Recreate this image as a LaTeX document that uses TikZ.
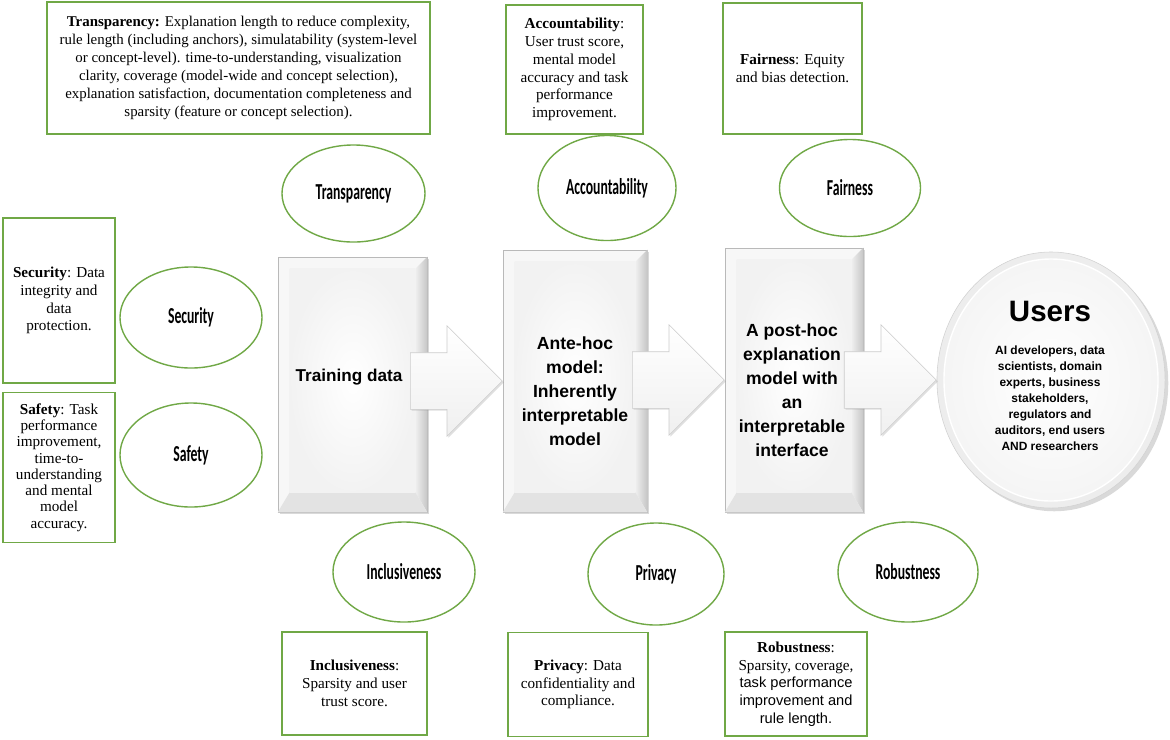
\documentclass[tikz,border=0pt]{standalone}
\usepackage{fontspec}
\usepackage{tikz}
\setmainfont{Liberation Serif}
\newfontfamily\arialfont{Liberation Sans}
\newfontfamily\calibrifont{Carlito}
\usetikzlibrary{shapes,arrows,positioning,calc,shadows}
\definecolor{leafgreen}{RGB}{112,168,70}

% label inside the green ellipses (narrow, tall letters)
\newcommand{\tallname}[1]{\scalebox{0.78}[1.3]{#1}}
% 3D face of a stage panel
\newcommand{\stagebevel}[1]{%
  \shade[left color=gray!12, right color=gray!45] ($(#1.north east)+(-12,12)$) -- (#1.north east) -- (#1.south east) -- ($(#1.south east)+(-12,-20)$) -- cycle;
  \fill[gray!22] ($(#1.south west)+(12,-20)$) -- (#1.south west) -- (#1.south east) -- ($(#1.south east)+(-12,-20)$) -- cycle;
  \shade[inner color=white, outer color=gray!10] ($(#1.north west)+(12,12)$) rectangle ($(#1.south east)+(-12,-20)$);
}

\begin{document}
\begin{tikzpicture}[x=0.025cm, y=-0.025cm,
  metricbox/.style={draw=leafgreen, line width=1.2pt, fill=white, align=center, inner sep=2pt, font=\fontsize{10.8}{12.6}\selectfont},
  principle/.style={ellipse, draw=leafgreen, line width=1pt, fill=white, inner sep=0pt, font=\calibrifont\bfseries\fontsize{12.5}{14}\selectfont},
  stage/.style={rectangle, draw=gray!55, fill=gray!6, inner sep=0pt, drop shadow={opacity=0.3, shadow xshift=1.2pt, shadow yshift=-1.2pt}},
  stagetext/.style={align=center, font=\arialfont\bfseries\fontsize{12.5}{17}\selectfont},
  blockarrow/.style={single arrow, draw=gray!40, inner sep=0pt, minimum height=2.3cm, single arrow head extend=0.675cm, shade, top color=white, bottom color=gray!12, drop shadow={opacity=0.25, shadow xshift=1pt, shadow yshift=-1pt}}]
  \useasboundingbox (0,0) rectangle (1170,739);

  % Metric boxes, top row
  \node[metricbox, minimum width=9.575cm, minimum height=3.3cm, font=\fontsize{10.6}{12.9}\selectfont] (tbox) at (238.5,68) {\textbf{Transparency:} Explanation length to reduce complexity,\\rule length (including anchors), simulatability (system-level\\or concept-level). time-to-understanding, visualization\\clarity, coverage (model-wide and concept selection),\\explanation satisfaction, documentation completeness and\\sparsity (feature or concept selection).};
  \node[metricbox, minimum width=3.425cm, minimum height=3.225cm] (abox) at (574.5,69.5) {\textbf{Accountability}:\\User trust score,\\mental model\\accuracy and task\\performance\\improvement.};
  \node[metricbox, minimum width=3.475cm, minimum height=3.275cm] (fbox) at (792.5,68.5) {\textbf{Fairness}: Equity\\and bias detection.};

  % Metric boxes, left column
  \node[metricbox, minimum width=2.8cm, minimum height=4.125cm] (secbox) at (59,300.5) {\textbf{Security}: Data\\integrity and\\data\\protection.};
  \node[metricbox, minimum width=2.8cm, minimum height=3.75cm, font=\fontsize{10.8}{11.6}\selectfont] (safbox) at (59,467.5) {\textbf{Safety}: Task\\performance\\improvement,\\time-to-\\understanding\\and mental\\model\\accuracy.};

  % Metric boxes, bottom row
  \node[metricbox, minimum width=3.625cm, minimum height=2.575cm] (incbox) at (354.5,683.5) {\textbf{Inclusiveness}:\\Sparsity and user\\trust score.};
  \node[metricbox, minimum width=3.5cm, minimum height=2.6cm] (privbox) at (578,684.5) {\textbf{Privacy}: Data\\confidentiality and\\compliance.};
  \node[metricbox, minimum width=3.55cm, minimum height=2.6cm] (robbox) at (796,684) {\textbf{Robustness}:\\Sparsity, coverage,\\{\arialfont\fontsize{10.4}{12.6}\selectfont task performance}\\{\arialfont\fontsize{10.4}{12.6}\selectfont improvement and}\\{\arialfont\fontsize{10.4}{12.6}\selectfont rule length.}};

  % Principles
  \node[principle, minimum width=3.575cm, minimum height=2.425cm] (etrans) at (353.5,193.5) {\tallname{Transparency}};
  \node[principle, minimum width=3.45cm, minimum height=2.625cm] (eacc) at (607,188) {\tallname{Accountability}};
  \node[principle, minimum width=3.525cm, minimum height=2.425cm] (efair) at (850,188) {\tallname{Fairness}};
  \node[principle, minimum width=3.55cm, minimum height=2.525cm] (esec) at (191,317.5) {\tallname{Security}};
  \node[principle, minimum width=3.55cm, minimum height=2.6cm] (esaf) at (191,455) {\tallname{Safety}};
  \node[principle, minimum width=3.55cm, minimum height=2.5cm] (eincl) at (404,572) {\tallname{Inclusiveness}};
  \node[principle, minimum width=3.4cm, minimum height=2.55cm] (epriv) at (656,574) {\tallname{Privacy}};
  \node[principle, minimum width=3.5cm, minimum height=2.5cm] (erob) at (908,572) {\tallname{Robustness}};

  % Pipeline stages
  \node[stage, minimum width=3.725cm, minimum height=6.375cm] (train) at (352.5,384.5) {};
  \stagebevel{train}
  \node[stage, minimum width=3.6cm, minimum height=6.55cm] (ante) at (575,381) {};
  \stagebevel{ante}
  \node[stage, minimum width=3.45cm, minimum height=6.6cm] (post) at (794,380) {};
  \stagebevel{post}

  % Users
  \node[ellipse, minimum width=5.7cm, minimum height=6.4cm, fill=gray!14, draw=gray!35, drop shadow={opacity=0.3}] (users) at (1051,380) {};
  \node[ellipse, minimum width=5.35cm, minimum height=6.05cm, inner color=white, outer color=gray!8, draw=white, line width=1pt] (usersface) at (users) {};

  % Block arrows
  \node[blockarrow, anchor=tip] (arr1) at (ante.west) {\rule{0pt}{1.4cm}};
  \node[blockarrow, anchor=tip] (arr2) at (post.west) {\rule{0pt}{1.4cm}};
  \node[blockarrow, anchor=tip] (arr3) at (users.west) {\rule{0pt}{1.4cm}};

  % Stage texts
  \node[stagetext, font=\arialfont\bfseries\fontsize{12.2}{17}\selectfont] (traintext) at (349,377) {Training data};
  \node[stagetext] (antetext) at (575,391) {Ante-hoc\\model:\\Inherently\\interpretable\\model};
  \node[stagetext] (posttext) at (792,390) {A post-hoc\\explanation\\model with\\an\\interpretable\\interface};
  \node[font=\arialfont\bfseries\fontsize{21}{24}\selectfont] (userstitle) at (1050,311) {Users};
  \node[align=center, font=\arialfont\bfseries\fontsize{8.5}{11.4}\selectfont] (userslist) at (1050,398) {AI developers, data\\scientists, domain\\experts, business\\stakeholders,\\regulators and\\auditors, end users\\AND researchers};
\end{tikzpicture}
\end{document}
